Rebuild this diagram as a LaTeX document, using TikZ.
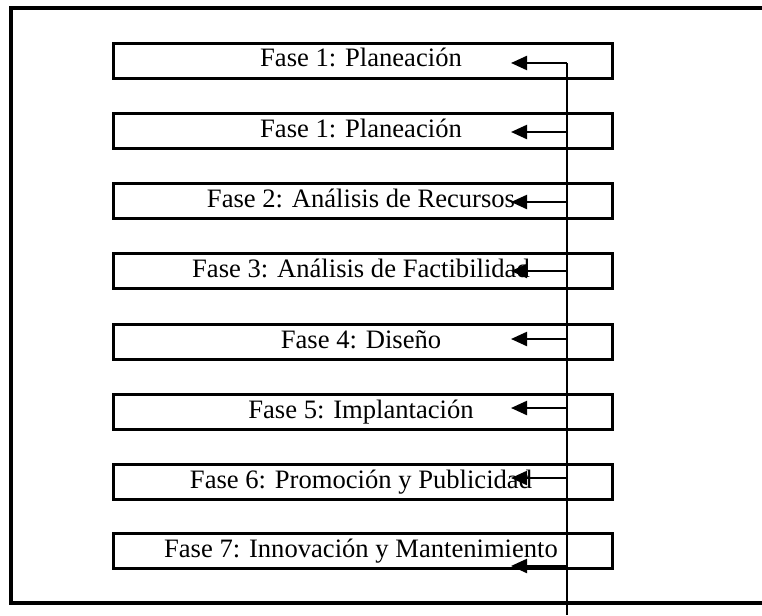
\documentclass[tikz,border=0pt]{standalone}
\usepackage{fontspec}
\setmainfont{Liberation Serif}
\usetikzlibrary{arrows.meta}
\begin{document}
\begin{tikzpicture}[x=1pt,y=-1pt,
  phasebox/.style={draw, line width=3pt, minimum width=499pt, minimum height=35pt, inner sep=0pt, anchor=north west},
  phaselabel/.style={anchor=base, inner sep=0pt, font=\fontsize{26.6}{30}\selectfont},
  feed/.style={line width=2.2pt, -{Triangle[length=16pt,width=14pt]}}
]
\useasboundingbox (0,0) rectangle (762,615);
% outer frame
\coordinate (f1) at (762,8);
\coordinate (f2) at (11,8);
\coordinate (f3) at (11,603);
\coordinate (f4) at (762,603);
\draw[line width=3.2pt] (f1) -- (f2) -- (f3) -- (f4);
% boxes
\foreach \i/\top/\txt in {1/42/{Fase 1: Planeación},2/112/{Fase 1: Planeación},3/182/{Fase 2: Análisis de Recursos},4/252/{Fase 3: Análisis de Factibilidad},5/323/{Fase 4: Diseño},6/393/{Fase 5: Implantación},7/463/{Fase 6: Promoción y Publicidad},8/532/{Fase 7: Innovación y Mantenimiento}}{
  \node[phasebox] (b\i) at (112,\top) {};
  \node[phaselabel] (l\i) at (361,\top+25) {\txt};
}
% vertical feedback line
\coordinate (vtop) at (567,63);
\coordinate (vbot) at (567,615);
\draw[line width=2.2pt] (vtop) -- (vbot);
% arrows
\foreach \i/\y in {1/63,2/132,3/202,4/271,5/339,6/408,7/478,8/566}{
  \coordinate (s\i) at (567,\y);
  \coordinate (t\i) at (511,\y);
  \draw[feed] (s\i) -- (t\i);
}
\end{tikzpicture}
\end{document}
